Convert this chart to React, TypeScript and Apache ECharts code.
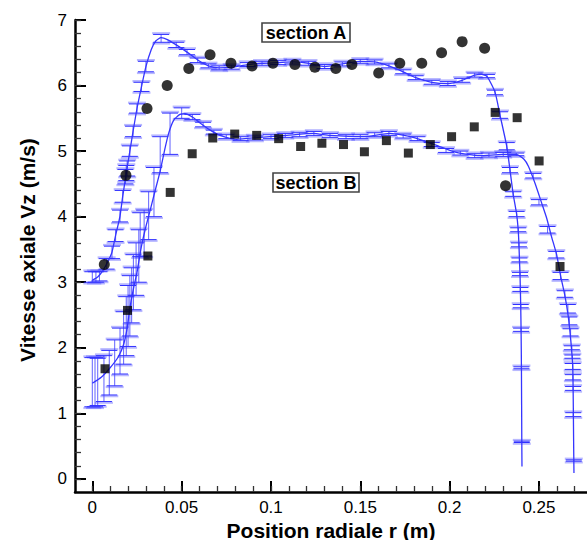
import React, { useEffect, useRef } from "react";
import * as echarts from "echarts";

// ---------- axis ticks ----------
const xTickValues = [0, 0.05, 0.1, 0.15, 0.2, 0.25];
const xTickLabels = ["0", "0.05", "0.1", "0.15", "0.2", "0.25"];
const yTickValues = [0, 1, 2, 3, 4, 5, 6, 7];
const yTickLabels = ["0", "1", "2", "3", "4", "5", "6", "7"];

// ---------- experimental points ----------
const circleX = [0.0067, 0.0188, 0.0306, 0.0419, 0.054, 0.0659, 0.0776, 0.0894, 0.1011, 0.1134, 0.1246, 0.1363, 0.1453, 0.1603, 0.1721, 0.1844, 0.1955, 0.207, 0.2196, 0.2313];
const circleY = [3.27, 4.63, 5.65, 6.0, 6.26, 6.47, 6.34, 6.3, 6.34, 6.32, 6.28, 6.26, 6.32, 6.19, 6.34, 6.34, 6.5, 6.67, 6.57, 4.47];

const squareX = [0.0071, 0.0197, 0.0311, 0.0436, 0.0559, 0.0674, 0.0797, 0.092, 0.1043, 0.1166, 0.1285, 0.1406, 0.1523, 0.1646, 0.1769, 0.1892, 0.2011, 0.2138, 0.2255, 0.2378, 0.2501, 0.2618];
const squareY = [1.68, 2.57, 3.4, 4.37, 4.96, 5.2, 5.26, 5.24, 5.19, 5.07, 5.12, 5.1, 4.99, 5.16, 4.97, 5.1, 5.22, 5.37, 5.59, 5.51, 4.85, 3.24];

// ---------- simulation curves ----------
const aCurveX = [0.0, 0.003, 0.006, 0.009, 0.011, 0.013, 0.0155, 0.017, 0.019, 0.021, 0.0228, 0.025, 0.0275, 0.03, 0.033, 0.0355, 0.0385, 0.042, 0.047, 0.053, 0.059, 0.065, 0.071, 0.078, 0.087, 0.095, 0.104, 0.112, 0.121, 0.13, 0.14, 0.15, 0.158, 0.166, 0.174, 0.181, 0.19, 0.199, 0.207, 0.214, 0.218, 0.2209, 0.2254, 0.2282, 0.232, 0.2338, 0.2356, 0.2375, 0.2384, 0.2388, 0.2391, 0.2394, 0.2396, 0.2398, 0.24, 0.2402, 0.2404, 0.2405];
const aCurveY = [3.03, 3.08, 3.18, 3.33, 3.46, 3.71, 4.01, 4.31, 4.66, 5.0, 5.3, 5.65, 5.98, 6.29, 6.55, 6.68, 6.73, 6.7, 6.62, 6.51, 6.39, 6.3, 6.27, 6.28, 6.32, 6.34, 6.35, 6.36, 6.34, 6.29, 6.33, 6.37, 6.36, 6.3, 6.21, 6.12, 6.05, 6.03, 6.08, 6.16, 6.17, 6.14, 5.9, 5.55, 5.07, 4.71, 4.34, 4.04, 3.8, 3.57, 3.34, 3.12, 2.89, 2.63, 2.27, 1.69, 0.57, 0.19];

const bCurveX = [0.0, 0.005, 0.0095, 0.0145, 0.0175, 0.0195, 0.021, 0.023, 0.025, 0.0275, 0.03, 0.0324, 0.035, 0.038, 0.0405, 0.0427, 0.0455, 0.049, 0.052, 0.056, 0.0603, 0.066, 0.0715, 0.0808, 0.0939, 0.1088, 0.1236, 0.133, 0.1516, 0.1665, 0.1795, 0.1944, 0.2037, 0.2168, 0.2298, 0.2373, 0.2415, 0.2441, 0.2478, 0.2515, 0.2543, 0.257, 0.2599, 0.2621, 0.2645, 0.2664, 0.2678, 0.2689, 0.2692, 0.2694, 0.2696];
const bCurveY = [1.46, 1.55, 1.68, 1.86, 2.05, 2.3, 2.6, 2.9, 3.15, 3.55, 3.85, 4.1, 4.38, 4.7, 5.02, 5.27, 5.47, 5.56, 5.57, 5.52, 5.43, 5.32, 5.24, 5.18, 5.21, 5.24, 5.27, 5.24, 5.22, 5.27, 5.21, 5.07, 4.98, 4.93, 4.95, 4.95, 4.88, 4.77, 4.51, 4.21, 3.98, 3.7, 3.42, 3.1, 2.8, 2.48, 2.12, 1.72, 1.21, 0.6, 0.09];

// ---------- simulation error bars ----------
const aErrX = [0.0, 0.002, 0.004, 0.008, 0.011, 0.013, 0.0155, 0.017, 0.0185, 0.019, 0.0195, 0.021, 0.0228, 0.025, 0.0275, 0.03, 0.0385, 0.047, 0.053, 0.059, 0.065, 0.071, 0.078, 0.087, 0.095, 0.104, 0.112, 0.121, 0.13, 0.14, 0.15, 0.158, 0.166, 0.174, 0.181, 0.19, 0.199, 0.207, 0.214, 0.2209, 0.2254, 0.2282, 0.232, 0.2338, 0.2356, 0.2375, 0.2384, 0.2388, 0.2391, 0.2394, 0.2396, 0.2398, 0.24, 0.2402, 0.2404];
const aErrLow = [3.0, 3.0, 3.02, 3.2, 3.36, 3.62, 3.92, 4.22, 4.5, 4.55, 4.62, 4.92, 5.22, 5.58, 5.91, 6.21, 6.66, 6.58, 6.47, 6.35, 6.27, 6.24, 6.25, 6.29, 6.31, 6.32, 6.33, 6.31, 6.26, 6.3, 6.34, 6.33, 6.27, 6.18, 6.09, 6.02, 6.0, 6.05, 6.13, 6.12, 5.86, 5.5, 5.02, 4.67, 4.31, 4.0, 3.77, 3.54, 3.31, 3.1, 2.86, 2.61, 2.25, 1.68, 0.555];
const aErrHigh = [3.16, 3.16, 3.16, 3.36, 3.55, 3.8, 4.1, 4.4, 4.72, 4.78, 4.85, 5.08, 5.38, 5.72, 6.05, 6.37, 6.78, 6.66, 6.55, 6.42, 6.33, 6.3, 6.31, 6.35, 6.37, 6.38, 6.39, 6.37, 6.32, 6.36, 6.4, 6.39, 6.33, 6.24, 6.15, 6.08, 6.06, 6.11, 6.19, 6.17, 5.93, 5.6, 5.13, 4.75, 4.38, 4.08, 3.83, 3.6, 3.37, 3.15, 2.92, 2.66, 2.3, 1.71, 0.575];

const bErrX = [0.0, 0.0015, 0.003, 0.0065, 0.0095, 0.0125, 0.0155, 0.0175, 0.019, 0.02, 0.021, 0.022, 0.023, 0.0245, 0.026, 0.0268, 0.029, 0.0315, 0.0345, 0.038, 0.0435, 0.05, 0.056, 0.062, 0.068, 0.075, 0.083, 0.091, 0.1, 0.108, 0.116, 0.124, 0.133, 0.142, 0.15, 0.158, 0.166, 0.174, 0.182, 0.19, 0.198, 0.206, 0.214, 0.222, 0.23, 0.2373, 0.2468, 0.25, 0.2548, 0.2597, 0.2621, 0.2645, 0.2662, 0.267, 0.2677, 0.2684, 0.2687, 0.2689, 0.269, 0.2691, 0.2692, 0.2695];
const bErrLow = [1.1, 1.1, 1.12, 1.18, 1.28, 1.42, 1.6, 1.75, 1.88, 2.02, 2.18, 2.38, 2.58, 2.8, 3.0, 3.39, 3.4, 3.65, 4.0, 4.67, 4.95, 5.5, 5.48, 5.37, 5.26, 5.19, 5.16, 5.17, 5.19, 5.21, 5.22, 5.24, 5.21, 5.19, 5.19, 5.22, 5.24, 5.2, 5.16, 5.07, 4.98, 4.94, 4.9, 4.91, 4.92, 4.93, 4.59, 4.18, 3.75, 3.37, 3.04, 2.77, 2.53, 2.35, 2.18, 1.97, 1.84, 1.67, 1.51, 1.35, 0.95, 0.27];
const bErrHigh = [1.85, 1.85, 1.84, 1.88, 1.96, 2.12, 2.3, 2.55, 2.78, 2.95, 3.1, 3.22, 3.42, 3.6, 3.8, 4.06, 4.1, 4.38, 4.75, 5.22, 5.58, 5.66, 5.56, 5.44, 5.32, 5.25, 5.22, 5.23, 5.25, 5.27, 5.28, 5.3, 5.27, 5.25, 5.25, 5.28, 5.3, 5.26, 5.22, 5.13, 5.04, 5.0, 4.96, 4.97, 4.98, 4.97, 4.66, 4.26, 3.85, 3.47, 3.15, 2.87, 2.66, 2.47, 2.29, 2.03, 1.89, 1.76, 1.59, 1.41, 1.01, 0.29];

const X_MIN = -0.0097;
const X_MAX = 0.2769;
const Y_MIN = -0.2;
const Y_MAX = 7;

const FONT = "'Liberation Sans', Arial, Helvetica, sans-serif";
const BLUE = "#3535ff";

function zip2(a: number[], b: number[]) {
  return a.map((v, i) => [v, b[i]]);
}
function zip3(a: number[], b: number[], c: number[]) {
  return a.map((v, i) => [v, b[i], c[i]]);
}

function labelFor(values: number[], labels: string[]) {
  return (v: number) => {
    const i = values.findIndex((t) => Math.abs(t - v) < 1e-9);
    return i >= 0 ? labels[i] : "";
  };
}

function errorRender(params: any, api: any) {
  const x = api.value(0);
  const lo = api.value(1);
  const hi = api.value(2);
  const p1 = api.coord([x, lo]);
  const p2 = api.coord([x, hi]);
  const w = 8;
  const light = "rgba(70,70,255,0.38)";
  const dark = "#3030ff";
  const caps: any[] = [];
  [p1, p2].forEach((p, k) => {
    const off = k === 0 ? 1.2 : -1.2;
    caps.push({
      type: "line",
      shape: { x1: p[0] - w - 1, y1: p[1] + off, x2: p[0] + w + 1, y2: p[1] + off },
      style: { stroke: light, lineWidth: 2.2 },
    });
    caps.push({
      type: "line",
      shape: { x1: p[0] - w, y1: p[1], x2: p[0] + w, y2: p[1] },
      style: { stroke: dark, lineWidth: 1 },
    });
  });
  return {
    type: "group",
    children: [
      {
        type: "line",
        shape: { x1: p1[0], y1: p1[1], x2: p2[0], y2: p2[1] },
        style: { stroke: "rgba(50,50,255,0.7)", lineWidth: 1.1 },
      },
      ...caps,
    ],
  };
}

const xMinorTicks = Array.from({ length: 28 }, (_, i) => Math.round(i * 10) / 1000);
const yMinorTicks = Array.from({ length: 36 }, (_, i) => Math.round(i * 2) / 10);

export default function App() {
  const ref = useRef<HTMLDivElement>(null);

  useEffect(() => {
    if (!ref.current) return;
    const chart = echarts.init(ref.current, undefined, { renderer: "svg" });

    const option: any = {
      animation: false,
      backgroundColor: "#ffffff",
      grid: { left: 75, right: 0, top: 20, bottom: 48, containLabel: false },
      xAxis: [
        {
          type: "value",
          min: X_MIN,
          max: X_MAX,
          position: "bottom",
          splitLine: { show: false },
          axisLine: { show: true, onZero: false, lineStyle: { color: "#000", width: 2.5 } },
          axisTick: {
            show: true,
            inside: true,
            length: 11,
            customValues: xTickValues,
            lineStyle: { color: "#000", width: 2 },
          },
          axisLabel: {
            show: true,
            customValues: xTickValues,
            formatter: labelFor(xTickValues, xTickLabels),
            color: "#000",
            fontSize: 17,
            fontFamily: FONT,
            margin: 7,
          },
        },
        {
          type: "value",
          min: X_MIN,
          max: X_MAX,
          position: "bottom",
          splitLine: { show: false },
          axisLine: { show: false, onZero: false },
          axisTick: {
            show: true,
            inside: true,
            length: 6,
            customValues: xMinorTicks,
            lineStyle: { color: "#333", width: 1.3 },
          },
          axisLabel: { show: false },
        },
      ],
      yAxis: [
        {
          type: "value",
          min: Y_MIN,
          max: Y_MAX,
          position: "left",
          splitLine: { show: false },
          axisLine: { show: true, onZero: false, lineStyle: { color: "#000", width: 2.5 } },
          axisTick: {
            show: true,
            inside: true,
            length: 11,
            customValues: yTickValues,
            lineStyle: { color: "#000", width: 2 },
          },
          axisLabel: {
            show: true,
            customValues: yTickValues,
            formatter: labelFor(yTickValues, yTickLabels),
            color: "#000",
            fontSize: 17,
            fontFamily: FONT,
            margin: 8,
          },
        },
        {
          type: "value",
          min: Y_MIN,
          max: Y_MAX,
          position: "left",
          splitLine: { show: false },
          axisLine: { show: false, onZero: false },
          axisTick: {
            show: true,
            inside: true,
            length: 6,
            customValues: yMinorTicks,
            lineStyle: { color: "#333", width: 1.3 },
          },
          axisLabel: { show: false },
        },
      ],
      series: [
        {
          name: "errA",
          type: "custom",
          xAxisIndex: 0,
          yAxisIndex: 0,
          renderItem: errorRender,
          encode: { x: 0, y: [1, 2] },
          data: zip3(aErrX, aErrLow, aErrHigh),
          z: 2,
        },
        {
          name: "errB",
          type: "custom",
          xAxisIndex: 0,
          yAxisIndex: 0,
          renderItem: errorRender,
          encode: { x: 0, y: [1, 2] },
          data: zip3(bErrX, bErrLow, bErrHigh),
          z: 2,
        },
        {
          name: "simA",
          type: "line",
          xAxisIndex: 0,
          yAxisIndex: 0,
          data: zip2(aCurveX, aCurveY),
          showSymbol: false,
          symbol: "none",
          smooth: 0.2,
          lineStyle: { color: BLUE, width: 1.3 },
          z: 3,
        },
        {
          name: "simB",
          type: "line",
          xAxisIndex: 0,
          yAxisIndex: 0,
          data: zip2(bCurveX, bCurveY),
          showSymbol: false,
          symbol: "none",
          smooth: 0.2,
          lineStyle: { color: BLUE, width: 1.3 },
          z: 3,
        },
        {
          name: "expA",
          type: "scatter",
          xAxisIndex: 0,
          yAxisIndex: 0,
          data: zip2(circleX, circleY),
          symbol: "circle",
          symbolSize: 11,
          itemStyle: { color: "#000" },
          z: 5,
        },
        {
          name: "expB",
          type: "scatter",
          xAxisIndex: 0,
          yAxisIndex: 0,
          data: zip2(squareX, squareY),
          symbol: "rect",
          symbolSize: 9,
          itemStyle: { color: "#000" },
          z: 5,
        },
      ],
      graphic: [
        {
          type: "text",
          x: 331,
          y: 530,
          style: {
            text: "Position radiale r (m)",
            align: "center",
            verticalAlign: "middle",
            font: `bold 21px ${FONT}`,
            fill: "#000",
          },
        },
        {
          type: "text",
          x: 27,
          y: 250,
          rotation: Math.PI / 2,
          style: {
            text: "Vitesse axiale Vz (m/s)",
            align: "center",
            verticalAlign: "middle",
            font: `bold 21px ${FONT}`,
            fill: "#000",
          },
        },
        {
          type: "rect",
          shape: { x: 262, y: 23, width: 88, height: 19 },
          style: { fill: "#fff", stroke: "#444", lineWidth: 1.6 },
          z: 10,
        },
        {
          type: "text",
          x: 306,
          y: 33,
          style: {
            text: "section A",
            align: "center",
            verticalAlign: "middle",
            font: `bold 18px ${FONT}`,
            fill: "#000",
          },
          z: 11,
        },
        {
          type: "rect",
          shape: { x: 273, y: 173, width: 86, height: 19 },
          style: { fill: "#fff", stroke: "#444", lineWidth: 1.6 },
          z: 10,
        },
        {
          type: "text",
          x: 316,
          y: 183,
          style: {
            text: "section B",
            align: "center",
            verticalAlign: "middle",
            font: `bold 18px ${FONT}`,
            fill: "#000",
          },
          z: 11,
        },
      ],
    };

    chart.setOption(option);
    return () => chart.dispose();
  }, []);

  return (
    <div
      ref={ref}
      style={{ position: "fixed", left: 0, top: 0, width: 587, height: 540, background: "#fff" }}
    />
  );
}
